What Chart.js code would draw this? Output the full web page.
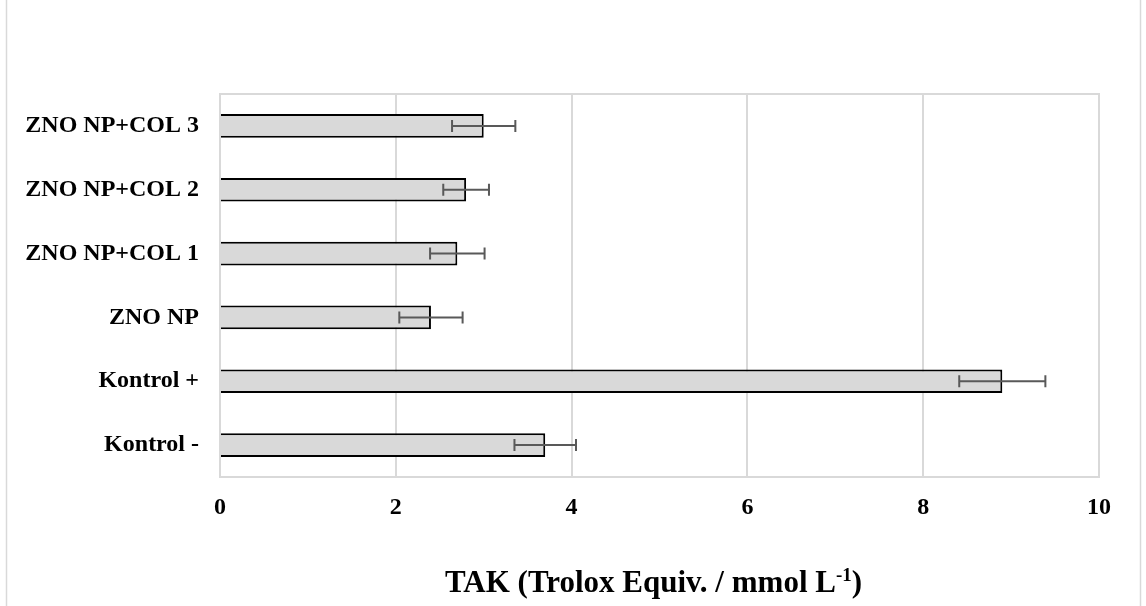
<!DOCTYPE html>
<html>
<head>
<meta charset="utf-8">
<script src="https://cdn.jsdelivr.net/npm/chart.js@4"></script>
<style>
    body { margin: 0; background: #fff; }
    canvas { display: block; }
</style>
</head>
<body>
<canvas id="chart" width="1146" height="606"></canvas>
<script>
// --- chart data ---
const groups = ['ZNO NP+COL 3', 'ZNO NP+COL 2', 'ZNO NP+COL 1', 'ZNO NP', 'Kontrol +', 'Kontrol -'];
const takValues = [3.0, 2.8, 2.7, 2.4, 8.9, 3.7];
const takErrors = [0.36, 0.26, 0.31, 0.36, 0.49, 0.35];
const xTicks = [0, 2, 4, 6, 8, 10];

const FONT = "'Liberation Serif', 'Times New Roman', serif";
const GRID = '#d9d9d9';

// frame lines, plot box and error bars
const decorations = {
    id: 'decorations',
    beforeDraw(chart) {
        const ctx = chart.ctx;
        ctx.save();
        ctx.fillStyle = '#fff';
        ctx.fillRect(0, 0, chart.width, chart.height);
        ctx.strokeStyle = GRID;
        ctx.lineWidth = 1.5;
        ctx.beginPath();
        ctx.moveTo(6.5, 0); ctx.lineTo(6.5, chart.height);
        ctx.moveTo(1140.5, 0); ctx.lineTo(1140.5, chart.height);
        ctx.stroke();
        ctx.restore();
    },
    beforeDatasetsDraw(chart) {
        const ctx = chart.ctx;
        const a = chart.chartArea;
        ctx.save();
        ctx.strokeStyle = GRID;
        ctx.lineWidth = 2;
        ctx.strokeRect(a.left, a.top, a.right - a.left, a.bottom - a.top);
        ctx.restore();
    },
    afterDatasetsDraw(chart) {
        const ctx = chart.ctx;
        const xs = chart.scales.x;
        const meta = chart.getDatasetMeta(0);
        ctx.save();
        ctx.strokeStyle = '#595959';
        ctx.lineWidth = 2;
        meta.data.forEach((bar, i) => {
            const y = bar.y;
            const lo = xs.getPixelForValue(takValues[i] - takErrors[i]);
            const hi = xs.getPixelForValue(takValues[i] + takErrors[i]);
            ctx.beginPath();
            ctx.moveTo(lo, y); ctx.lineTo(hi, y);
            ctx.moveTo(lo, y - 6); ctx.lineTo(lo, y + 6);
            ctx.moveTo(hi, y - 6); ctx.lineTo(hi, y + 6);
            ctx.stroke();
        });
        ctx.restore();
    },
    afterDraw(chart) {
        // axis title with superscript
        const ctx = chart.ctx;
        const a = chart.chartArea;
        const main = 'TAK (Trolox Equiv. / mmol L';
        const sup = '-1';
        const tail = ')';
        ctx.save();
        ctx.fillStyle = '#000';
        ctx.textBaseline = 'alphabetic';
        ctx.textAlign = 'left';
        const big = 'bold 31px ' + FONT;
        const small = 'bold 19px ' + FONT;
        ctx.font = big;
        const w1 = ctx.measureText(main).width;
        const w3 = ctx.measureText(tail).width;
        ctx.font = small;
        const w2 = ctx.measureText(sup).width;
        const total = w1 + w2 + w3;
        let x = (a.left + a.right) / 2 - total / 2 - 6;
        const y = 592;
        ctx.font = big;
        ctx.fillText(main, x, y);
        x += w1;
        ctx.font = small;
        ctx.fillText(sup, x, y - 11);
        x += w2;
        ctx.font = big;
        ctx.fillText(tail, x, y);
        ctx.restore();
    }
};

new Chart(document.getElementById('chart'), {
    type: 'bar',
    data: {
        labels: groups,
        datasets: [{
            label: 'TAK',
            data: takValues,
            backgroundColor: '#d9d9d9',
            borderColor: '#000',
            borderWidth: 2,
            categoryPercentage: 1,
            barPercentage: 0.37
        }]
    },
    options: {
        indexAxis: 'y',
        responsive: false,
        animation: false,
        layout: { padding: { top: 94, right: 47, bottom: 0, left: 0 } },
        plugins: {
            legend: { display: false },
            tooltip: { enabled: false }
        },
        scales: {
            x: {
                min: 0,
                max: 10,
                afterBuildTicks: s => { s.ticks = xTicks.map(v => ({ value: v })); },
                afterFit: s => { s.height = 129; },
                grid: { color: GRID, lineWidth: 2, drawTicks: false },
                border: { display: false },
                ticks: {
                    color: '#000',
                    padding: 16,
                    font: { family: FONT, size: 24, weight: 'bold' }
                }
            },
            y: {
                afterFit: s => { s.width = 220; },
                grid: { display: false, drawTicks: false },
                border: { display: false },
                ticks: {
                    color: '#000',
                    padding: 21,
                    font: { family: FONT, size: 24, weight: 'bold' }
                }
            }
        }
    },
    plugins: [decorations]
});
</script>
</body>
</html>
